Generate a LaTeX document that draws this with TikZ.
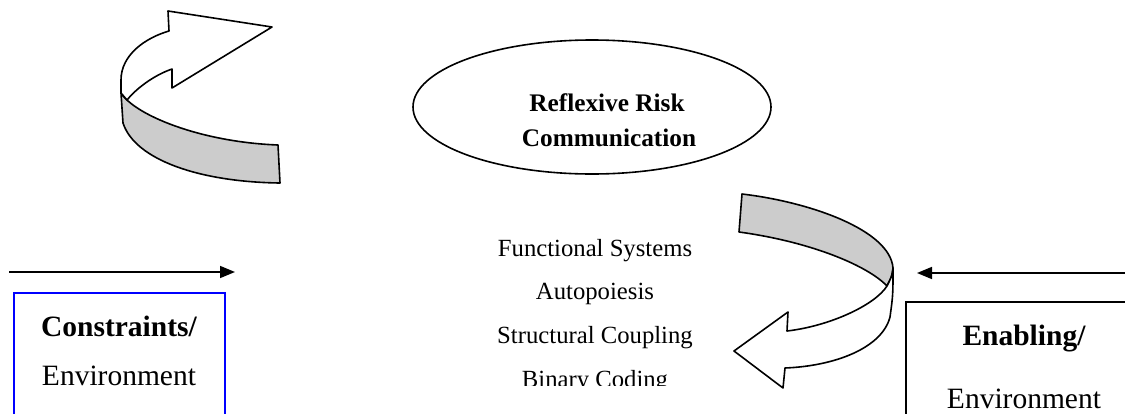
\documentclass[tikz,border=0pt]{standalone}
\usepackage{fontspec}
\setmainfont{Liberation Serif}
\usetikzlibrary{arrows.meta,shapes.geometric}
\tikzset{
  ribbon/.style={draw=black,line width=1.6pt,line join=round},
  band/.style={ribbon,fill=black!20},
  face/.style={ribbon,fill=white},
  feed/.style={draw=black,line width=1.6pt,-{Triangle[length=15pt,width=12pt]}},
  boxtxt/.style={anchor=base,inner sep=0pt,font=\fontsize{29.5}{35}\selectfont},
  listtxt/.style={anchor=base,inner sep=0pt,font=\fontsize{24.7}{30}\selectfont},
  elltxt/.style={anchor=base,inner sep=0pt,font=\fontsize{25.3}{30}\selectfont\bfseries},
}
\begin{document}
\begin{tikzpicture}[x=1pt,y=-1pt]
\useasboundingbox (0,0) rectangle (1125,413);
\clip (0,0) rectangle (1125,413);

% top-left curved ribbon arrow
\path[band] (121,93) .. controls (135,115) and (200,142) .. (278,145)
  -- (280,183) .. controls (200,182) and (135,160) .. (123,123) -- cycle;
\path[face] (121,93) -- (121,80) .. controls (121,55) and (145,38) .. (169,31)
  -- (168,11) -- (272,27) -- (172,88) -- (172,69)
  .. controls (152,76) and (135,90) .. (127,100) -- cycle;

% right curved ribbon arrow
\path[band] (742,194) .. controls (810,202) and (890,230) .. (893,268)
  .. controls (892,276) .. (887,286)
  .. controls (868,266) and (812,242) .. (739,232) -- cycle;
\path[face] (893,268) .. controls (893,295) .. (890,317)
  .. controls (882,348) and (835,366) .. (785,368)
  -- (783,388) -- (734,351) -- (788,312) -- (787,331)
  .. controls (830,326) and (875,305) .. (887,286)
  .. controls (892,276) .. (893,268) -- cycle;

% ellipse
\node[ellipse,draw=black,line width=1.6pt,minimum width=358pt,minimum height=134pt,inner sep=0pt] (ell) at (592,107) {};
\node[elltxt] (rr) at (607,111) {Reflexive Risk};
\node[elltxt] (comm) at (609,146) {Communication};

% list
\node[listtxt] (fs) at (595,256) {Functional Systems};
\node[listtxt] (ap) at (595,299) {Autopoiesis};
\node[listtxt] (sc) at (595,343) {Structural Coupling};
\begin{scope}
\clip (400,360) rectangle (800,385.5);
\node[listtxt] (bc) at (595,387) {Binary Coding};
\end{scope}

% straight arrows
\coordinate (la) at (9,272);
\coordinate (lb) at (235,272);
\draw[feed] (la) -- (lb);
\coordinate (ra) at (1130,273);
\coordinate (rb) at (917,273);
\draw[feed] (ra) -- (rb);

% boxes
\node[draw=blue,line width=1.6pt,minimum width=211pt,minimum height=140pt,anchor=north west,inner sep=0pt] (lbox) at (13,292) {};
\node[boxtxt] (con) at (119,336) {\bfseries Constraints/};
\node[boxtxt] (env1) at (119,385) {Environment};

\node[draw=black,line width=1.6pt,minimum width=240pt,minimum height=130pt,anchor=north west,inner sep=0pt] (rbox) at (905,301) {};
\node[boxtxt] (ena) at (1024,345) {\bfseries Enabling/};
\node[boxtxt] (env2) at (1024,408) {Environment};
\end{tikzpicture}
\end{document}
